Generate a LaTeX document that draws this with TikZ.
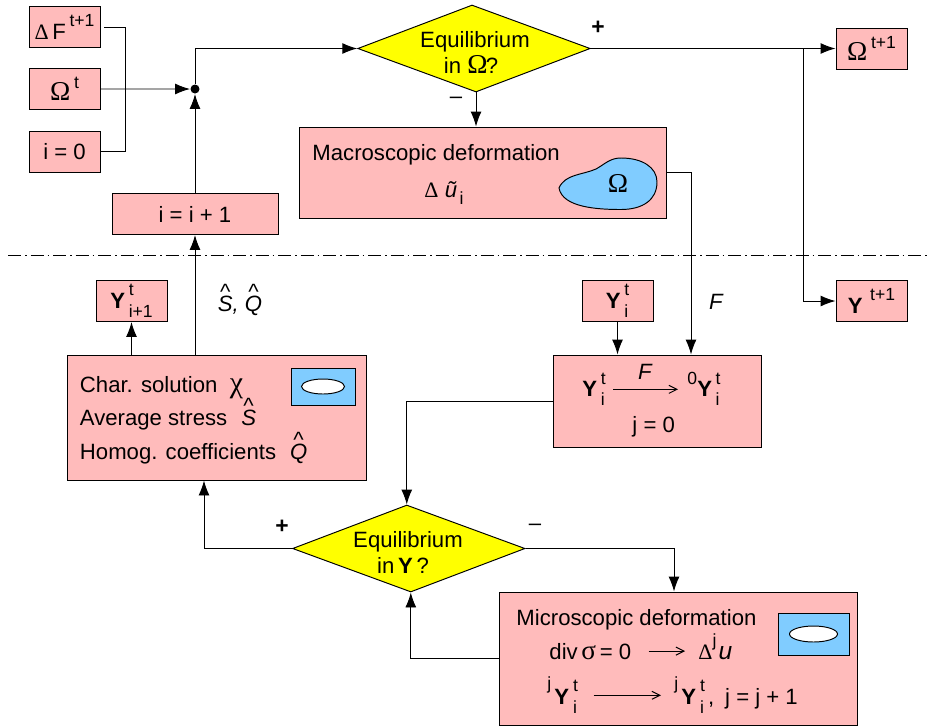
\documentclass[tikz,border=0pt]{standalone}
\usepackage{fontspec}
\setmainfont{Liberation Sans}
\newfontfamily\symbfont{Liberation Serif}
\usetikzlibrary{shapes.geometric,arrows.meta}

\definecolor{boxpink}{RGB}{255,187,187}
\definecolor{shapeblue}{RGB}{128,204,255}
\definecolor{decisionyellow}{RGB}{255,255,0}

\newcommand{\smalltxt}{\fontsize{10}{12}\selectfont}
\newcommand{\Om}{{\symbfont\fontsize{15.5}{15}\selectfont Ω}}
\newcommand{\dl}{{\symbfont\fontsize{12.5}{12}\selectfont Δ}}
\newcommand{\Yb}{{\bfseries Y}}
\newcommand{\upper}[1]{\raisebox{1.05ex}{\smalltxt #1}}
\newcommand{\supsub}[2]{\ooalign{\raisebox{1.05ex}{\smalltxt #1}\hfil\cr\raisebox{-.8ex}{\smalltxt #2}\hfil\cr}}
\newcommand{\hatted}[1]{\ooalign{\hfil\raisebox{1.0ex}{\^{}}\hfil\cr\textit{#1}\cr}}

\begin{document}
\begin{tikzpicture}[>={Latex[length=0.3cm,width=0.22cm]},
    every node/.style={font=\fontsize{12.6}{14.5}\selectfont},
    every path/.style={line width=0.55pt},
    smallbox/.style={rectangle, draw, fill=boxpink, minimum width=1.42cm, minimum height=0.82cm, inner sep=0pt, text centered},
    bigbox/.style={rectangle, draw, fill=boxpink, inner sep=0pt},
    decision/.style={diamond, draw, fill=decisionyellow, minimum width=4.65cm, minimum height=1.74cm, inner sep=0pt, xslant=-0.046, transform shape},
    txt/.style={inner sep=0pt, anchor=base west},
    cell/.style={rectangle, draw, fill=shapeblue, inner sep=0pt},
    hole/.style={ellipse, draw, fill=white, inner sep=0pt},
    dot/.style={circle, fill=black, inner sep=0pt, minimum size=0.18cm},
    slim/.style={-{Straight Barb[length=0.16cm,width=0.16cm]}, shorten <=0.14cm, shorten >=0.18cm}]

\useasboundingbox (0,0) rectangle (18.56,-14.54);

% Input boxes
\node[smallbox] (deltaF) at (1.29,-0.54) {\dl\,F\,\upper{t+1}};
\node[smallbox, below of=deltaF, node distance=1.24cm] (omega) {\Om\,\upper{t}};
\node[smallbox, below of=omega, node distance=1.25cm] (zero) {i = 0};
\node[bigbox, right of=zero, node distance=2.61cm, yshift=-1.25cm, minimum width=3.32cm, minimum height=0.82cm] (inc) {i = i + 1};
\node[dot, above of=inc, node distance=2.5cm] (junction) {};
\coordinate (bus) at (2.5,-1.78);

% Macro level
\node[decision] (eqOmega) at (9.48,-0.97) {};
\node[align=center, inner sep=0pt] (eqOmegatext) at (9.5,-1.05) {Equilibrium\\in \Om\kern-1pt?\kern.16cm};
\node[smallbox, right of=eqOmega, node distance=7.95cm] (omegaNext) {\Om\,\upper{t+1}};
\node[bigbox, below of=eqOmega, node distance=2.48cm, xshift=0.17cm, minimum width=7.34cm, minimum height=1.82cm] (macro) {};
\node[txt] (macrotitle) at (6.24,-3.2) {Macroscopic deformation};
\node[txt] (macrou) at (8.48,-3.94) {\dl\;\textit{ũ}\kern.05cm\raisebox{-.6ex}{\smalltxt i}};
\draw[fill=shapeblue] (11.18,-3.76) .. controls (11.3,-3.48) and (11.65,-3.5) .. (11.92,-3.38)
    .. controls (12.1,-3.28) and (12.2,-3.16) .. (12.42,-3.16)
    .. controls (12.85,-3.16) and (13.14,-3.35) .. (13.14,-3.64)
    .. controls (13.14,-4.0) and (12.85,-4.19) .. (12.42,-4.19)
    .. controls (11.95,-4.19) and (11.25,-4.15) .. cycle;
\node[inner sep=0pt] (blobtext) at (12.36,-3.66) {\Om};

% Separation of the two scales
\coordinate (sepleft) at (0.16,-5.1);
\coordinate (sepright) at (18.56,-5.1);
\draw[dash pattern=on 0.26cm off 0.08cm on 0.03cm off 0.08cm] (sepleft) -- (sepright);

% Micro level
\node[smallbox, below of=omegaNext, node distance=5.05cm] (yNext) {\Yb\,\,\upper{t+1}};
\node[smallbox, left of=yNext, node distance=5.08cm] (yOld) {\Yb\,\supsub{t}{i}};
\node[smallbox, left of=yOld, node distance=9.72cm] (yInc) {\Yb\,\supsub{t}{i+1}};
\node[bigbox, below of=yInc, node distance=2.33cm, xshift=1.7cm, minimum width=5.98cm, minimum height=2.5cm] (charbox) {};
\node[txt] (charline) at (1.59,-7.85) {Char. solution\hspace{.25cm}{\symbfont\fontsize{17}{15}\selectfont χ}};
\node[txt] (stressline) at (1.59,-8.51) {Average stress\hspace{.28cm}\hatted{S}};
\node[txt] (homogline) at (1.59,-9.18) {Homog. coefficients\hspace{.28cm}\hatted{Q}};
\node[cell, minimum width=1.28cm, minimum height=0.74cm] (charcell) at (6.46,-7.73) {};
\node[hole, minimum width=0.86cm, minimum height=0.3cm] (charhole) at (charcell) {};

\node[bigbox, below of=yOld, node distance=2cm, xshift=0.79cm, minimum width=4.16cm, minimum height=1.84cm] (mapbox) {};
\node[txt] (mapleft) at (11.64,-7.93) {\Yb\,\supsub{t}{i}};
\node[txt] (mapright) at (13.74,-7.93) {\upper{0}\Yb\,\supsub{t}{i}};
\node[font=\fontsize{12.6}{14.5}\selectfont\itshape, inner sep=0pt] (mapF) at (12.9,-7.44) {F};
\node[txt] (mapzero) at (12.64,-8.64) {j = 0};
\draw[slim] (mapleft.east) -- (mapleft.east -| mapright.west);

\node[decision, left of=mapbox, node distance=5.1cm, yshift=-2.95cm] (eqY) {};
\node[align=center, inner sep=0pt] (eqYtext) at (8.16,-11.05) {Equilibrium\\in\,\Yb\,?\kern.2cm};

\node[bigbox, below of=mapbox, node distance=5.15cm, xshift=0.42cm, minimum width=7.16cm, minimum height=2.66cm] (micro) {};
\node[txt] (microtitle) at (10.32,-12.5) {Microscopic deformation};
\node[txt] (divleft) at (10.98,-13.18) {div\,{\symbfont\fontsize{15.5}{15}\selectfont σ}\,= 0};
\node[txt] (divright) at (13.96,-13.18) {\dl\upper{j}\kern.04cm{\fontsize{14}{15}\selectfont\textit{u}}};
\node[txt] (stepleft) at (10.94,-14.08) {\raisebox{1.2ex}{\smalltxt j}\kern.06cm\Yb\kern.08cm\supsub{t}{i}};
\node[txt] (stepright) at (13.48,-14.08) {\raisebox{1.2ex}{\smalltxt j}\kern.06cm\Yb\kern.08cm\supsub{t}{i}\kern.06cm,\kern.22cm j = j + 1};
\draw[slim, shorten <=0.34cm, shorten >=0.26cm] (divleft.east) -- (divleft.east -| divright.west);
\draw[slim, shorten <=0.3cm, shorten >=0.26cm] (stepleft.east) -- (stepleft.east -| stepright.west);
\node[cell, minimum width=1.42cm, minimum height=0.84cm] (microcell) at (16.27,-12.68) {};
\node[hole, minimum width=0.96cm, minimum height=0.32cm] (microhole) at (microcell) {};

% Connections
\draw[shorten <=0.08cm] (deltaF.east) -- (bus |- deltaF.east) -- (bus |- zero.east) -- (zero.east);
\draw[->] (omega) -- (junction);
\draw[->] (inc) -- (junction);
\draw[->] (junction) |- (eqOmega.west);
\draw[->] (eqOmega.east) -- (omegaNext.west);
\coordinate (branch) at (16.06,-0.97);
\draw[->] (branch) |- (yNext.west);
\draw[->] (eqOmega.south) -- (eqOmega.south |- macro.north);
\draw[->] (macro.east) -| ([xshift=0.68cm]mapbox.north);
\draw[->] (charbox.north -| inc) -- (inc);
\draw[->] (charbox.north -| yInc) -- (yInc);
\draw[->] (yOld) -- (yOld |- mapbox.north);
\draw[->] (mapbox.west) -| (eqY.north);
\draw[->] (eqY.west) -| ([xshift=-0.25cm]charbox.south);
\draw[->] (eqY.east) -| ([xshift=-0.08cm]micro.north);
\draw[->] (micro.west) -| (eqY.south);

% Labels
\node[font=\bfseries\fontsize{13}{15}\selectfont, inner sep=0pt] (plustop) at (11.96,-0.56) {+};
\node[inner sep=0pt] (minustop) at (9.12,-2.0) {–};
\node[font=\fontsize{12.6}{14.5}\selectfont\itshape, inner sep=0pt] (macroF) at (14.32,-6.04) {F};
\node[inner sep=0pt] (hatpair) at (4.8,-6.0) {\hatted{S}\textit{,}\hspace{.12cm}\hatted{Q}};
\node[font=\bfseries\fontsize{13}{15}\selectfont, inner sep=0pt] (plusbottom) at (5.64,-10.54) {+};
\node[inner sep=0pt] (minusbottom) at (10.7,-10.54) {–};

\end{tikzpicture}
\end{document}
